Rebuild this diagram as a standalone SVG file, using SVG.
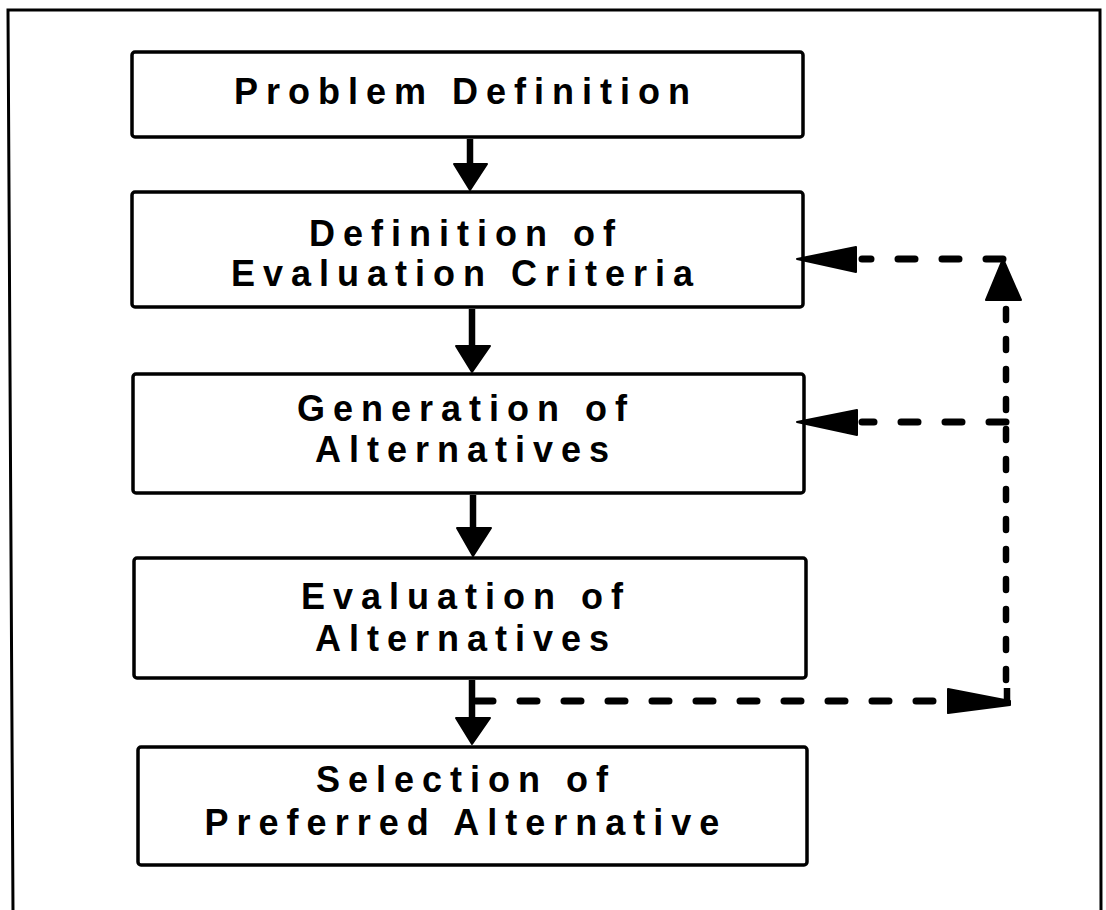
<svg xmlns="http://www.w3.org/2000/svg" width="1106" height="910" viewBox="0 0 1106 910">
  <style>
    .frame { fill: none; stroke: #000; stroke-width: 3; }
    .box { fill: #fff; stroke: #000; stroke-width: 3.5; }
    .label { font-family: "Liberation Sans", Arial, sans-serif; font-weight: bold; font-size: 36px; letter-spacing: 8px; fill: #000; text-anchor: middle; }
    .stem { stroke: #000; stroke-width: 6.5; fill: none; }
    .head { fill: #000; stroke: #000; stroke-width: 2; stroke-linejoin: round; }
    .dashh { stroke: #000; stroke-width: 7; fill: none; stroke-linecap: round; stroke-dasharray: 17 27; }
    .dashv { stroke: #000; stroke-width: 6.5; fill: none; stroke-linecap: round; stroke-dasharray: 11 19; }
  </style>
  <rect width="1106" height="910" fill="#fff"/>
  <path class="frame" d="M 13 912 L 8 10 L 1100 10 L 1101 912"/>

  <g id="node-problem-definition">
    <rect class="box" x="132" y="52" width="671" height="85" rx="3"/>
    <text class="label" x="466" y="104">Problem Definition</text>
  </g>
  <g id="node-evaluation-criteria">
    <rect class="box" x="132" y="192" width="671" height="115" rx="3"/>
    <text class="label" x="466" y="246">Definition of</text>
    <text class="label" x="466" y="286">Evaluation Criteria</text>
  </g>
  <g id="node-generation">
    <rect class="box" x="133" y="374" width="671" height="119" rx="3"/>
    <text class="label" x="466" y="421">Generation of</text>
    <text class="label" x="466" y="462">Alternatives</text>
  </g>
  <g id="node-evaluation">
    <rect class="box" x="134" y="558" width="672" height="120" rx="3"/>
    <text class="label" x="466" y="609">Evaluation of</text>
    <text class="label" x="466" y="651">Alternatives</text>
  </g>
  <g id="node-selection">
    <rect class="box" x="138" y="747" width="669" height="118" rx="3"/>
    <text class="label" x="466" y="792">Selection of</text>
    <text class="label" x="466" y="835">Preferred Alternative</text>
  </g>

  <g id="connectors">
    <!-- solid downward arrows -->
    <line class="stem" x1="470" y1="139" x2="470" y2="166"/>
    <polygon class="head" points="454,164 487,164 470,190"/>
    <line class="stem" x1="472" y1="309" x2="472" y2="347"/>
    <polygon class="head" points="456,346 490,346 472,372"/>
    <line class="stem" x1="473" y1="495" x2="473" y2="529"/>
    <polygon class="head" points="457,528 491,528 473,556"/>
    <line class="stem" x1="472" y1="680" x2="472" y2="719"/>
    <polygon class="head" points="456,718 490,718 472,744"/>

    <!-- dashed feedback loop -->
    <path class="dashh" d="M 476 701 H 948"/>
    <polygon class="head" points="948,689 1010,701 1010,705 948,713"/>
    <line class="stem" x1="1007" y1="688" x2="1007" y2="703"/>
    <path class="dashv" d="M 1006 680 V 302"/>
    <polygon class="head" points="1003,259 986,300 1021,300"/>
    <path class="dashh" d="M 1003 259 H 862"/>
    <polygon class="head" points="797,259 856,247 856,272"/>
    <path class="dashh" d="M 1006 422 H 862"/>
    <polygon class="head" points="797,422 857,410 857,435"/>
  </g>
</svg>
